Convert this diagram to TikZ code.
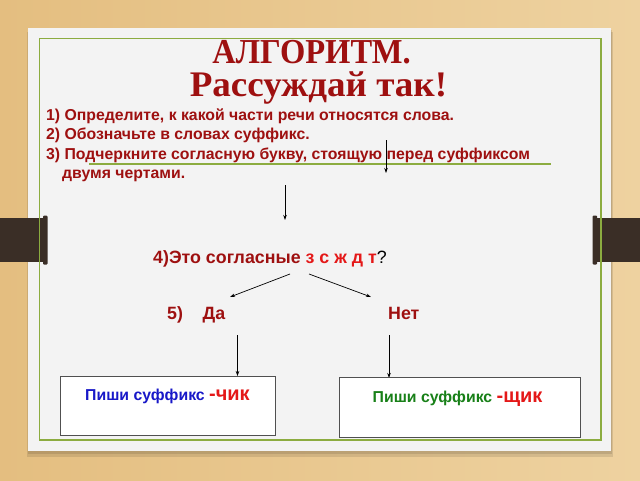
\documentclass[tikz,border=0pt]{standalone}
\usepackage{fontspec}
\setmainfont{Liberation Sans}
\newfontfamily\titlefont{Liberation Serif}
\usetikzlibrary{arrows.meta}
\definecolor{bgwood}{RGB}{234,202,146}
\definecolor{bgwoodA}{RGB}{228,190,128}
\definecolor{bgwoodB}{RGB}{238,210,160}
\definecolor{paper}{RGB}{243,243,243}
\definecolor{framegreen}{RGB}{140,172,64}
\definecolor{dred}{RGB}{158,16,16}
\definecolor{bred}{RGB}{228,24,24}
\definecolor{tblue}{RGB}{24,24,200}
\definecolor{tgreen}{RGB}{24,128,24}
\definecolor{tabbrown}{RGB}{58,46,38}
\tikzset{
  txt/.style={anchor=base west, inner sep=0pt, font=\fontsize{15.8}{18}\selectfont\bfseries, text=dred},
  bigtxt/.style={anchor=base west, inner sep=0pt, font=\fontsize{17.8}{20}\selectfont\bfseries, text=dred},
  ttl/.style={anchor=base, inner sep=0pt, text=dred},
  arr/.style={draw=black, line width=0.7pt, -{Stealth[length=5pt,width=3.5pt]}},
  box/.style={draw={rgb,255:red,80;green,80;blue,80}, line width=0.9pt, fill=white, anchor=north west, inner sep=0pt},
  boxtxt/.style={anchor=base west, inner sep=0pt, font=\fontsize{15.8}{18}\selectfont\bfseries},
  tab/.style={fill=tabbrown, draw=none}
}
\begin{document}
\begin{tikzpicture}[x=1pt,y=-1pt]
\useasboundingbox (0,0) rectangle (640,480);
% background
\shade[left color=bgwoodA, right color=bgwoodB] (0,0) rectangle (640,480);
% shadow and paper
\fill[black, opacity=0.10] (27,32) rectangle (613,457);
\fill[black, opacity=0.10] (28,30) rectangle (612,454);
\fill[paper] (28,28) rectangle (611,451);
% tabs
\fill[tab] (0,218) rectangle (45,262);
\fill[tab, rounded corners=1pt] (43,215.5) rectangle (47.5,264.5);
\fill[tab] (595,218) rectangle (640,262);
\fill[tab, rounded corners=1pt] (592.5,215.5) rectangle (597,264.5);
% green frame
\draw[framegreen, line width=1.6pt] (39.5,38.5) rectangle (601,440);
% title
\node[ttl, font=\fontsize{35}{38}\selectfont\titlefont\bfseries\addfontfeature{FakeStretch=0.93}] (t1) at (311.5,63) {АЛГОРИТМ.};
\node[ttl, font=\fontsize{36}{38}\selectfont\titlefont\bfseries\addfontfeature{FakeStretch=1.03}] (t2) at (318.5,96.5) {Рассуждай так!};
% steps
\node[txt] (l1) at (46,120) {1) Определите, к какой части речи относятся слова.};
\node[txt] (l2) at (46,139.5) {2) Обозначьте в словах суффикс.};
\node[txt] (l3) at (46,159) {3) Подчеркните согласную букву, стоящую перед суффиксом};
\node[txt] (l4) at (62,178) {двумя чертами\textbf{.}};
% green underline
\coordinate (gl1) at (89,164);
\coordinate (gl2) at (551,164);
\draw[framegreen, line width=1.3pt] (gl1) -- (gl2);
% arrows
\coordinate (a1s) at (386,140);
\coordinate (a1e) at (386,173);
\draw[arr] (a1s) -- (a1e);
\coordinate (a2s) at (285,185);
\coordinate (a2e) at (285,220);
\draw[arr] (a2s) -- (a2e);
% step 4
\node[bigtxt] (q4) at (153,263.5) {4)Это согласные \textcolor{bred}{з с ж д т}\textcolor{black}{\mdseries ?}};
\coordinate (a3s) at (290,274);
\coordinate (a3e) at (230,297);
\draw[arr] (a3s) -- (a3e);
\coordinate (a4s) at (309,274);
\coordinate (a4e) at (371,297);
\draw[arr] (a4s) -- (a4e);
% step 5
\node[bigtxt] (s5) at (167,319) {5)};
\node[bigtxt] (da) at (202.5,319) {Да};
\node[bigtxt] (net) at (388,319) {Нет};
\coordinate (a5s) at (237.5,335);
\coordinate (a5e) at (237.5,376);
\draw[arr] (a5s) -- (a5e);
\coordinate (a6s) at (389,335);
\coordinate (a6e) at (389,378);
\draw[arr] (a6s) -- (a6e);
% boxes
\node[box, minimum width=215pt, minimum height=59.5pt] (box1) at (60,375.5) {};
\node[box, minimum width=241pt, minimum height=60pt] (box2) at (339,377) {};
\node[boxtxt] (bt1) at (85,400)
  {\textcolor{tblue}{Пиши суффикс} \textcolor{bred}{\fontsize{20}{22}\selectfont -чик}};
\node[boxtxt] (bt2) at (372.5,402)
  {\textcolor{tgreen}{Пиши суффикс} \textcolor{bred}{\fontsize{20}{22}\selectfont -щик}};
\end{tikzpicture}
\end{document}
